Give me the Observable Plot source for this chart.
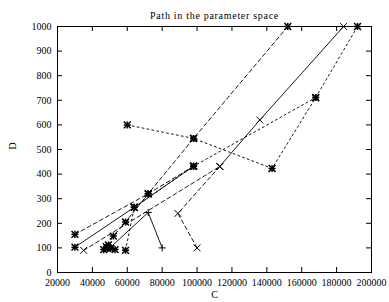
<!DOCTYPE html>
<html><head><meta charset="utf-8">
<script src="https://cdn.jsdelivr.net/npm/d3@7"></script>
<script src="https://cdn.jsdelivr.net/npm/@observablehq/plot@0.6"></script>
<style>body{margin:0;background:#fff}</style>
</head><body><div id="chart"></div>
<script>
const titleText = "Path in the parameter space";
const xLabel = "C";
const yLabel = "D";
const xTicks = [20000, 40000, 60000, 80000, 100000, 120000, 140000, 160000, 180000, 200000];
const yTicks = [0, 100, 200, 300, 400, 500, 600, 700, 800, 900, 1000];

// paths (C, D)
const steepC = [152000, 98000, 72000, 59000, 52000, 48000];
const steepD = [1000, 545, 320, 205, 148, 105];
const dotTopC = [60000, 98000, 143000, 168000, 192000];
const dotTopD = [600, 545, 423, 711, 1000];
const dotMidC = [59000, 64000, 98000, 168000];
const dotMidD = [90, 265, 432, 711];
const dashLowC = [30000, 72000, 98000];
const dashLowD = [155, 320, 432];
const solidLowC = [30000, 64000, 98000];
const solidLowD = [103, 265, 432];
const crossDashC = [35000, 113000];
const crossDashD = [90, 431];
const crossSolidC = [113000, 136000, 184000];
const crossSolidD = [431, 620, 1000];
const crossVC = [100000, 89000, 113000];
const crossVD = [100, 240, 431];
const plusC = [80000, 72000, 50000];
const plusD = [100, 244, 100];
const clusterC = [46500, 48500, 49200, 50500, 53000];
const clusterD = [93, 98, 112, 98, 93];

const paths = [
  {C: steepC, D: steepD, dash: "4,3", sym: "star"},
  {C: dotTopC, D: dotTopD, dash: "2,3", sym: "star"},
  {C: dotMidC, D: dotMidD, dash: "2,3", sym: "star"},
  {C: dashLowC, D: dashLowD, dash: "4,3", sym: "star"},
  {C: solidLowC, D: solidLowD, dash: null, sym: "star"},
  {C: crossDashC, D: crossDashD, dash: "4,3", sym: "times"},
  {C: crossSolidC, D: crossSolidD, dash: null, sym: "times"},
  {C: crossVC, D: crossVD, dash: "4,3", sym: "times"},
  {C: plusC, D: plusD, dash: null, sym: "plus"},
  {C: clusterC, D: clusterD, dash: null, sym: "star", noLine: true}
];
const rows = p => p.C.map((c, j) => ({C: c, D: p.D[j]}));

const marks = [];
for (const p of paths) {
  const data = rows(p);
  const sw = p.sym === "star" ? 1.5 : 1;
  if (!p.noLine) marks.push(Plot.line(data, {x: "C", y: "D", stroke: "black", strokeWidth: 0.9, strokeDasharray: p.dash || undefined}));
  if (p.sym === "star" || p.sym === "plus") marks.push(Plot.dot(data, {x: "C", y: "D", symbol: "plus", r: 2.4, stroke: "black", strokeWidth: sw}));
  if (p.sym === "star" || p.sym === "times") marks.push(Plot.dot(data, {x: "C", y: "D", symbol: "times", r: 3.2, stroke: "black", strokeWidth: sw}));
}

const W = 389, H = 302, mL = 57, mR = 18, mT = 26, mB = 30;
const fw = W - mL - mR, fh = H - mT - mB;

const chart = Plot.plot({
  width: W, height: H,
  marginLeft: mL, marginRight: mR, marginTop: mT, marginBottom: mB,
  style: {fontFamily: "'Liberation Serif', 'DejaVu Serif', serif", fontSize: "10px", background: "white", color: "black"},
  x: {domain: [20000, 200000]},
  y: {domain: [0, 1000]},
  marks: [
    Plot.frame({stroke: "black", strokeWidth: 1}),
    Plot.tickX(xTicks, {x: d => d, insetTop: fh - 5, stroke: "black"}),
    Plot.tickX(xTicks, {x: d => d, insetBottom: fh - 5, stroke: "black"}),
    Plot.tickY(yTicks, {y: d => d, insetRight: fw - 5, stroke: "black"}),
    Plot.tickY(yTicks, {y: d => d, insetLeft: fw - 5, stroke: "black"}),
    Plot.axisX({ticks: xTicks, tickSize: 0, tickPadding: 6, label: null, tickFormat: d => String(d)}),
    Plot.axisY({ticks: yTicks, tickSize: 0, tickPadding: 6, label: null, tickFormat: d => String(d)}),
    Plot.text([titleText], {frameAnchor: "top", dy: -15, fontSize: 10}),
    Plot.text([xLabel], {frameAnchor: "bottom", dy: 25, fontSize: 10}),
    Plot.text([yLabel], {frameAnchor: "left", dx: -45, rotate: -90, fontSize: 10}),
    ...marks
  ]
});
d3.select(chart).selectAll("text").filter(function() { return this.textContent === titleText; })
  .style("letter-spacing", "0.7px");
document.getElementById("chart").appendChild(chart);
</script>
</body></html>
